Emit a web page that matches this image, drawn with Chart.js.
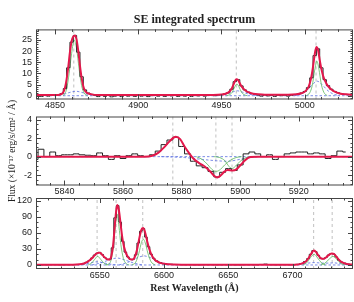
<!DOCTYPE html>
<html>
<head>
<meta charset="utf-8">
<script src="https://cdn.jsdelivr.net/npm/chart.js@4.4.1/dist/chart.umd.min.js"></script>
<style>
  body { margin: 0; background: #fff; }
  #wrap { position: relative; width: 354px; height: 302px; }
  canvas { position: absolute; left: 0; top: 0; }
</style>
</head>
<body>
<div id="wrap">
  <canvas id="hbeta" width="354" height="302"></canvas>
  <canvas id="nad" width="354" height="302"></canvas>
  <canvas id="halpha" width="354" height="302"></canvas>
</div>
<script>
// ---- Hbeta / [OIII] panel ----
const p1Wave = [4840,4842,4844,4846,4848,4850,4852,4854,4856,4858,
  4860,4862,4864,4866,4868,4870,4872,4874,4876,4878,
  4880,4882,4884,4886,4888,4890,4892,4894,4896,4898,
  4900,4902,4904,4906,4908,4910,4912,4914,4916,4918,
  4920,4922,4924,4926,4928,4930,4932,4934,4936,4938,
  4940,4942,4944,4946,4948,4950,4952,4954,4956,4958,
  4960,4962,4964,4966,4968,4970,4972,4974,4976,4978,
  4980,4982,4984,4986,4988,4990,4992,4994,4996,4998,
  5000,5002,5004,5006,5008,5010,5012,5014,5016,5018,
  5020,5022,5024,5026,5028];
const p1Flux = [0.2,-0.3,0.1,-0.2,0.3,0.1,0.4,0.9,3.2,12.5,
  24,27,19.5,8.5,2.6,1.2,0.6,0.2,-0.4,0.1,
  -0.3,0.2,-0.5,-0.2,0.1,-0.4,0.2,-0.2,0.3,-0.3,
  0.1,-0.2,0.2,-0.4,0.0,0.3,-0.2,0.1,-0.3,0.2,
  -0.1,0.3,-0.3,0.1,-0.2,0.2,-0.3,0.1,-0.1,0.3,
  -0.2,0.1,0.4,0.0,0.3,0.5,0.8,1.3,2.9,6.3,
  7.2,4.4,2.6,1.6,1.0,0.7,0.3,-0.2,0.3,-0.1,
  0.2,-0.3,0.2,0.0,0.3,-0.2,0.2,0.5,0.7,1.2,
  1.9,3.6,8.0,18.0,21.0,12.5,7.2,4.5,2.9,1.9,
  1.3,0.9,0.6,0.5,0.3];
const p1FitWave = [4838,4852,4854,4855,4856,4857,4858,4859,4860,4861,4862,4863,4864,4865,4866,4867,4868,4869.5,4872,4876,
  4945,4950,4952,4954,4955,4956,4957,4958,4959,4960,4961,4962,4963,4964,4965,4967,4969,4972,4976,
  4990,4995,4998,5000,5002,5003,5004,5005,5006,5007,5008,5009,5010,5011,5012,5013,5014,5016,5018,5021,5025,5030];
const p1Fit = [0.3,0.35,0.8,1.6,3.6,7.4,13,19.6,24.5,26.5,27,25,20,13.5,8,4.2,2.2,1.2,0.6,0.35,
  0.35,0.5,0.8,1.4,2.0,3.0,4.6,6.4,7.4,7.0,5.6,4.3,3.3,2.6,2.0,1.3,0.9,0.6,0.4,
  0.4,0.6,1.1,1.8,3.5,5.5,8.5,13,18.5,21.8,20.5,16,12,9,7,5.5,4.3,2.8,1.8,1.0,0.6,0.4];
const p1NarrowWave = [4855,4857,4858.5,4860,4861.5,4863,4864.5,4866,4867.5,4869.5,4869.5,
  4953,4955,4956.5,4958,4959.3,4960.5,4962,4963.5,4965.5,4965.5,
  5001,5003,5004.5,5006,5007.3,5008.5,5010,5011.5,5013.5];
const p1Narrow = [0,3,10,19,25,21,12,4.5,1.2,0,null,
  0,0.5,1.6,4,5.2,4,1.6,0.5,0,null,
  0,1.3,4.5,11.5,15.5,12,5,1.5,0];
const p1BroadWave = [4850,4855,4859,4862.5,4866,4870,4875,4875,
  4946,4950,4953,4956,4959.5,4963,4966,4969,4973,4973,
  4994,4998,5001,5004,5007.5,5011,5014,5017,5021];
const p1Broad = [0,0.6,1.5,2.0,1.5,0.6,0,null,
  0,0.3,0.8,1.5,2.2,1.5,0.8,0.3,0,null,
  0,0.8,2.2,4.5,6.5,4.5,2.2,0.8,0];
const p1Lines = [4861.3, 4958.9, 5006.8];

// ---- HeI / NaD panel ----
const p2Wave = [5830,5832,5834,5836,5838,5840,5842,5844,5846,5848,
  5850,5852,5854,5856,5858,5860,5862,5864,5866,5868,
  5870,5872,5874,5876,5878,5880,5882,5884,5886,5888,
  5890,5892,5894,5896,5898,5900,5902,5904,5906,5908,
  5910,5912,5914,5916,5918,5920,5922,5924,5926,5928,
  5930,5932,5934,5936];
const p2Flux = [-0.3,0.8,0.0,0.5,0.1,0.2,0.2,0.3,0.2,0.15,
  0.1,0.4,0.1,-0.3,0.1,-0.2,0.1,0.3,0.1,0.0,
  0.2,0.6,1.3,1.8,2.1,1.1,0.3,-0.5,-1.0,-1.2,
  -1.6,-2.2,-1.7,-1.3,-1.5,-0.9,0.3,0.5,0.3,0.0,
  0.2,-0.3,0.0,0.3,0.4,0.5,0.5,0.3,0.4,0.3,
  -0.2,0.1,0.6,0.5];
const p2FitWave = [5829,5867,5870,5872,5874,5876,5878,5879.5,5881,5882.5,5884,5886,5888,5890,5891.2,5892.2,5893.3,
  5894.7,5895.7,5897.4,5898.8,5900.3,5901.8,5903.5,5906,5940];
const p2Fit = [0,0,0.1,0.4,1.0,1.7,2.15,1.9,1.1,0.4,-0.2,-0.7,-1.1,-1.7,-2.1,-2.25,-2.05,
  -1.6,-1.45,-1.5,-1.35,-0.85,-0.35,-0.05,0,0];
const p2NarrowWave = [5885,5887,5889,5890.4,5891.8,5893.2,5894.7,5896.6,5898.6,5900.5,5900.5,
  5891,5893,5894.8,5896,5897.2,5898.5,5900,5902,5904];
const p2Narrow = [0,-0.3,-0.9,-1.4,-1.6,-1.4,-0.9,-0.4,-0.1,0,null,
  0,-0.1,-0.45,-1.0,-1.3,-1.0,-0.5,-0.1,0];
const p2BroadWave = [5873,5881,5887,5892,5896,5899,5903,5907];
const p2Broad = [0,-0.1,-0.3,-0.45,-0.5,-0.35,-0.1,0];
const p2Lines = [5877.0, 5891.7, 5897.2];

// ---- Halpha / [NII] / [SII] panel ----
const p3Wave = [6501,6508,6514,6520,6526,6530,6534,6537,6540,6542,6544,6546,6548,6550,6552,6554,6556,6558,
  6560,6562,6564,6566,6568,6570,6572,6574,6576,6578,6580,6582,6584,6586,6588,6590,6592,6594,6597,6600,
  6604,6610,6618,6626,6634,6642,6650,6658,6666,6672,6676,6679,6682,6688,6694,6700,6704,6707,6710,6712,
  6714,6716,6718,6720,6722,6724,6726,6728,6730,6732,6734,6736,6738,6740,6743,6746,6748];
const p3Flux = [0.3,0.2,0.5,0.3,0.5,0.6,1.0,2.2,5,8.5,13,18.5,22,23.5,19.5,14,10.5,11,
  32,88,111,80,44,24,15,10.5,10.5,19,41,63,68,52,34,20,12.5,7.5,4,2.3,
  1.3,0.7,0.5,0.3,0.6,0.4,0.5,0.3,0.6,0.4,1.0,1.6,0.6,0.4,0.6,0.5,1.1,2.6,6.5,12,
  20,27,25,18,12.5,11.5,14,18.5,21.5,20.5,15,9,5.5,3.5,1.7,1.0,0.6];
const p3FitWave = [6499,6525,6532,6536,6539,6542,6545,6547,6549,6550.5,6552,6554,6556,6557.5,6559,6560.5,6562,6563,
  6563.8,6565,6566.5,6568,6570,6572,6574,6575.5,6577,6579,6581,6582.5,6583.8,6585.2,6587,6589,6591,6593.5,
  6597,6601,6608,6620,6700,6704,6707,6710,6712.5,6714.5,6716.5,6718,6720,6722,6724,6726,6728,6730.5,
  6732.5,6734.5,6737,6740,6743,6750];
const p3Fit = [0.3,0.4,0.8,1.8,4,8.5,15,20.5,23,22.5,19,14,10.5,10,16,38,80,104,
  112,102,72,45,25,15,10.5,10,13,28,52,66,69,62,44,27,16,8.5,
  4,2,0.9,0.4,0.4,1.0,2.5,6,13,21,27,25,18,12.5,11.5,14,18.5,21.5,
  20,14,7.5,3.5,1.6,0.7];
const p3NarrowWave = [6541,6543.5,6546,6548.5,6551,6553.5,6556,6556,
  6555,6558,6560,6561.8,6563.5,6565,6566.5,6568.5,6571,6573,6573,
  6575,6578,6580.5,6582.5,6584,6585.5,6587.5,6590,6593,6593,
  6708,6711,6714,6716.8,6719.5,6722.5,6725.5,6725.5,
  6722,6725,6728.5,6731.5,6734.5,6737.5,6740.5];
const p3Narrow = [0,3,10,16,10,3,0,null,
  0,4,22,62,95,72,38,12,2,0,null,
  0,5,22,42,48,41,22,6,0,null,
  0,4,14,20,13,4,0,null,
  0,3,11,16,10,3,0];
const p3BroadWave = [6533,6540,6548,6556,6563,6563,
  6544,6551,6557,6563.5,6570,6576,6583,6583,
  6565,6572,6579,6584.5,6590,6597,6604,6604,
  6698,6706,6712,6717,6723,6728,6732,6738,6746];
const p3Broad = [0,2.5,6,2.5,0,null,
  0,4,9,13,9,4,0,null,
  0,5,13,17,13,5,0,null,
  0,1.5,3.5,4.5,3.5,3.5,4,2,0];
const p3Lines = [6548.0, 6562.8, 6583.5, 6716.4, 6730.8];

const continuumLevel = 0;

const INK = '#222';
const RED = '#e3184b';
const GREEN = '#5cb85c';
const BLUE = '#5a6ee0';
const GRAY = '#b0b0b0';
const TICK_FONT = { family: 'Liberation Sans', size: 9 };

const pairs = (xs, ys) => xs.map((x, i) => ({ x: x, y: ys[i] }));
const markers = (xs, lo, hi) => xs.flatMap(x => [{ x: x, y: lo }, { x: x, y: hi }, { x: x, y: null }]);

// frame with inward major/minor ticks on all four sides (IDL style)
const boxTicks = {
  id: 'boxTicks',
  afterDatasetsDraw(chart, args, opts) {
    const { ctx, chartArea: a, scales } = chart;
    ctx.save();
    ctx.strokeStyle = '#444';
    ctx.lineWidth = 1;
    ctx.strokeRect(a.left + 0.5, a.top + 0.5, a.right - a.left - 1, a.bottom - a.top - 1);
    ctx.beginPath();
    const walk = (scale, minor, major, fn) => {
      for (let k = Math.ceil(scale.min / minor); k * minor <= scale.max; k++) {
        const v = k * minor;
        const isMajor = Math.abs(v / major - Math.round(v / major)) < 1e-6;
        fn(Math.round(scale.getPixelForValue(v)) + 0.5, isMajor ? 5 : 2.5);
      }
    };
    walk(scales.x, opts.xMinor, opts.xMajor, (px, len) => {
      ctx.moveTo(px, a.bottom); ctx.lineTo(px, a.bottom - len);
      ctx.moveTo(px, a.top); ctx.lineTo(px, a.top + len);
    });
    walk(scales.y, opts.yMinor, opts.yMajor, (py, len) => {
      ctx.moveTo(a.left, py); ctx.lineTo(a.left + len, py);
      ctx.moveTo(a.right, py); ctx.lineTo(a.right - len, py);
    });
    ctx.stroke();
    ctx.restore();
  }
};

function buildPanel(id, p) {
  const datasets = [
    { data: pairs(p.fitW, p.fit), borderColor: RED, borderWidth: 2, cubicInterpolationMode: 'monotone', order: 0 },
    { data: pairs(p.obsW, p.obs), borderColor: INK, borderWidth: 1, stepped: 'middle', order: 1 },
    { data: pairs(p.narW, p.nar), borderColor: GREEN, borderWidth: 0.8, cubicInterpolationMode: 'monotone', order: 2 },
    { data: pairs(p.broW, p.bro), borderColor: BLUE, borderWidth: 0.8, borderDash: [2.5, 2], cubicInterpolationMode: 'monotone', order: 3 },
    { data: [{ x: p.xMin, y: continuumLevel }, { x: p.xMax, y: continuumLevel }], borderColor: BLUE, borderWidth: 0.8, borderDash: [2.5, 2], order: 3 },
    { data: markers(p.lines, p.yMin, p.yMax), borderColor: GRAY, borderWidth: 0.8, borderDash: [3, 3], order: 4 }
  ];
  return new Chart(document.getElementById(id), {
    type: 'line',
    data: { datasets: datasets },
    options: {
      responsive: false,
      animation: false,
      events: [],
      layout: { padding: p.pad },
      elements: { point: { radius: 0 }, line: { fill: false } },
      plugins: {
        legend: { display: false },
        tooltip: { enabled: false },
        title: p.title || { display: false },
        boxTicks: p.ticks
      },
      scales: {
        x: {
          type: 'linear', min: p.xMin, max: p.xMax,
          afterFit: s => { s.height = p.xHeight; },
          grid: { display: false, drawTicks: false },
          border: { display: false },
          ticks: { stepSize: p.ticks.xMajor, includeBounds: false, autoSkip: false, maxRotation: 0,
                   font: TICK_FONT, color: INK, padding: 1, callback: v => String(v) },
          title: p.xTitle || { display: false }
        },
        y: {
          type: 'linear', min: p.yMin, max: p.yMax,
          afterFit: s => { s.width = 36; },
          grid: { display: false, drawTicks: false },
          border: { display: false },
          ticks: { stepSize: p.ticks.yMajor, includeBounds: false, font: TICK_FONT, color: INK, padding: 4,
                   callback: v => String(v) },
          title: p.yTitle || { display: false }
        }
      }
    },
    plugins: [boxTicks]
  });
}

buildPanel('hbeta', {
  obsW: p1Wave, obs: p1Flux, fitW: p1FitWave, fit: p1Fit,
  narW: p1NarrowWave, nar: p1Narrow, broW: p1BroadWave, bro: p1Broad, lines: p1Lines,
  xMin: 4838.6, xMax: 5029, yMin: -1.7, yMax: 29.7, xHeight: 14,
  pad: { top: 0, left: 0, right: 1, bottom: 188.5 },
  ticks: { xMajor: 50, xMinor: 10, yMajor: 5, yMinor: 1 },
  title: { display: true, text: 'SE integrated spectrum', fullSize: false, color: INK,
           font: { family: 'Liberation Serif', size: 12, weight: 'bold' }, padding: { top: 13, bottom: 2 } }
});

buildPanel('nad', {
  obsW: p2Wave, obs: p2Flux, fitW: p2FitWave, fit: p2Fit,
  narW: p2NarrowWave, nar: p2Narrow, broW: p2BroadWave, bro: p2Broad, lines: p2Lines,
  xMin: 5830.3, xMax: 5938.5, yMin: -3.13, yMax: 4.35, xHeight: 14,
  pad: { top: 116.5, left: 0, right: 1, bottom: 102.5 },
  ticks: { xMajor: 20, xMinor: 5, yMajor: 2, yMinor: 0.5 },
  yTitle: { display: true, text: 'Flux (×10⁻¹⁷ erg/s/cm² / Å)', color: INK,
            font: { family: 'Liberation Serif', size: 9.5 }, padding: { top: 7, bottom: 0 } }
});

buildPanel('halpha', {
  obsW: p3Wave, obs: p3Flux, fitW: p3FitWave, fit: p3Fit,
  narW: p3NarrowWave, nar: p3Narrow, broW: p3BroadWave, bro: p3Broad, lines: p3Lines,
  xMin: 6500.5, xMax: 6747, yMin: -7.5, yMax: 125, xHeight: 33,
  pad: { top: 198, left: 0, right: 1, bottom: 0 },
  ticks: { xMajor: 50, xMinor: 10, yMajor: 30, yMinor: 10 },
  xTitle: { display: true, text: 'Rest Wavelength (Å)', color: INK,
            font: { family: 'Liberation Serif', size: 10, weight: 'bold' }, padding: { top: 8, bottom: 8 } }
});
</script>
</body>
</html>
